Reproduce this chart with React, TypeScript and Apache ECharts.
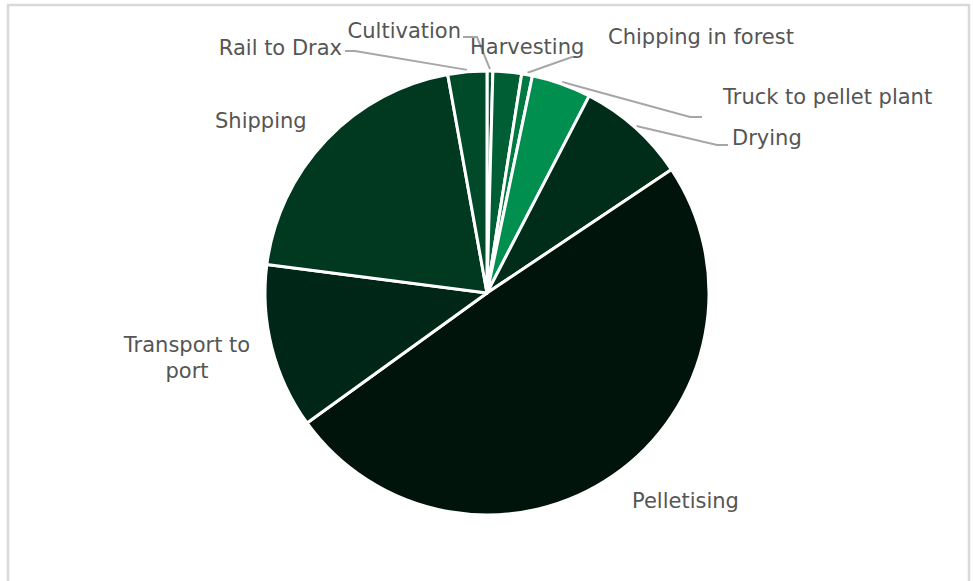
import React, { useEffect, useRef } from "react";
import * as echarts from "echarts";

const categories = [
  "Cultivation",
  "Harvesting",
  "Chipping in forest",
  "Truck to pellet plant",
  "Drying",
  "Pelletising",
  "Transport to port",
  "Shipping",
  "Rail to Drax",
];
const values = [0.42, 2.08, 0.78, 4.33, 8.0, 49.4, 12.0, 20.1, 2.83];
const colors = [
  "#00552e",
  "#005e34",
  "#007a40",
  "#008f4e",
  "#002d19",
  "#00140b",
  "#002618",
  "#003820",
  "#004a2a",
];

// label anchors and leader-line elbows (annotation layout)
const labelLayouts: any[] = [
  { x: 461, y: 31, align: "right", line: [[477, 37], [463, 37]] },
  { x: 470, y: 47, align: "left", line: null },
  { x: 608, y: 37, align: "left", line: [[572, 57], [577, 57]] },
  { x: 723, y: 97, align: "left", line: [[690, 117], [702, 117]] },
  { x: 732, y: 138, align: "left", line: [[717, 145], [728, 145]] },
  { x: 632, y: 501, align: "left", line: null },
  { x: 187, y: 358, align: "center", line: null },
  { x: 215, y: 121, align: "left", line: null },
  { x: 342, y: 48, align: "right", line: [[355, 51], [345, 51]] },
];

const CX = 487;
const CY = 293;
const R = 222;

export default function App() {
  const ref = useRef<HTMLDivElement>(null);
  useEffect(() => {
    const chart = echarts.init(ref.current!, null, { renderer: "svg" });
    const total = values.reduce((a, b) => a + b, 0);
    const mids: number[] = [];
    let acc = 0;
    values.forEach((v) => {
      mids.push(((acc + v / 2) / total) * 2 * Math.PI);
      acc += v;
    });
    chart.setOption({
      animation: false,
      backgroundColor: "#ffffff",
      graphic: [
        {
          type: "rect",
          shape: { x: 8, y: 5, width: 961, height: 620 },
          style: { fill: "none", stroke: "#d9d9d9", lineWidth: 2.5 },
          silent: true,
        },
      ],
      series: [
        {
          type: "pie",
          center: [CX, CY],
          radius: [0, R],
          startAngle: 90,
          clockwise: true,
          avoidLabelOverlap: false,
          itemStyle: { borderColor: "#ffffff", borderWidth: 3 },
          label: {
            show: true,
            position: "outside",
            fontFamily: "DejaVu Sans",
            fontSize: 21,
            color: "#555555",
            lineHeight: 26,
            formatter: (p: any) =>
              p.name === "Transport to port" ? "Transport to\nport" : p.name,
          },
          labelLine: {
            show: true,
            lineStyle: { color: "#a6a6a6", width: 2 },
            smooth: false,
          },
          labelLayout: (params: any) => {
            const i = params.dataIndex;
            const l = labelLayouts[i];
            const res: any = {
              x: l.x,
              y: l.y,
              align: l.align,
              verticalAlign: "middle",
            };
            if (l.line) {
              const a = mids[i];
              const sx = CX + (R + 2) * Math.sin(a);
              const sy = CY - (R + 2) * Math.cos(a);
              res.labelLinePoints = [[sx, sy], l.line[0], l.line[1]];
            }
            return res;
          },
          data: categories.map((c, i) => ({
            name: c,
            value: values[i],
            itemStyle: { color: colors[i] },
            labelLine: { show: !!labelLayouts[i].line },
          })),
        },
      ],
    });
    return () => chart.dispose();
  }, []);
  return (
    <div
      ref={ref}
      style={{ position: "fixed", left: 0, top: 0, width: 973, height: 581 }}
    />
  );
}
